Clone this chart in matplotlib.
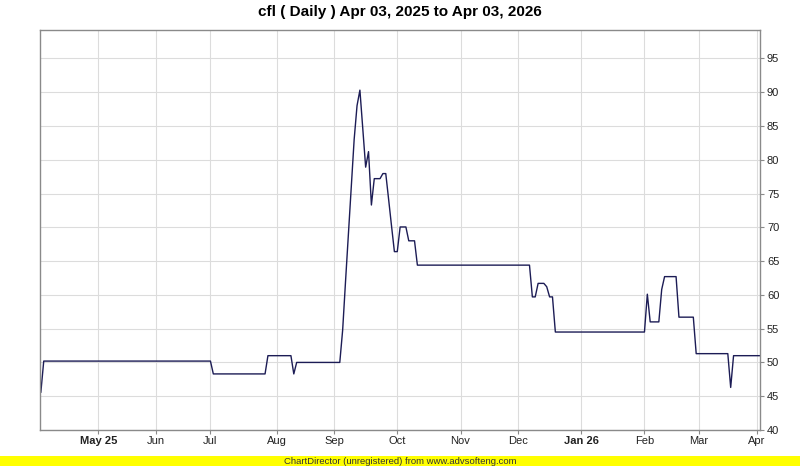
import matplotlib
matplotlib.use("Agg")
import matplotlib.pyplot as plt
import pandas as pd

# ---- data ----
title = "cfl ( Daily ) Apr 03, 2025 to Apr 03, 2026"
start_date = "2025-04-03"
end_date = "2026-04-02"
# weekdays without a trading record
no_trade_days = ["2025-05-15", "2025-06-11", "2025-06-19", "2025-05-26", "2025-08-20",
                 "2025-10-20", "2025-12-25", "2026-02-16", "2026-03-10", "2026-03-25"]

key_dates = ["2025-04-03", "2025-04-04", "2025-07-01", "2025-07-02", "2025-07-28", "2025-07-29",
             "2025-08-08", "2025-08-11", "2025-08-12", "2025-09-03", "2025-09-04", "2025-09-05",
             "2025-09-08", "2025-09-09", "2025-09-10", "2025-09-11", "2025-09-12", "2025-09-15",
             "2025-09-16", "2025-09-17", "2025-09-18", "2025-09-19", "2025-09-22", "2025-09-23",
             "2025-09-24", "2025-09-25", "2025-09-26", "2025-09-29", "2025-09-30", "2025-10-01",
             "2025-10-02", "2025-10-06", "2025-10-07", "2025-10-09", "2025-10-10", "2025-12-05",
             "2025-12-08", "2025-12-09", "2025-12-10", "2025-12-12", "2025-12-15", "2025-12-16",
             "2025-12-17", "2025-12-18", "2026-02-02", "2026-02-03", "2026-02-04", "2026-02-09",
             "2026-02-10", "2026-02-11", "2026-02-18", "2026-02-19", "2026-02-26", "2026-02-27",
             "2026-03-17", "2026-03-18", "2026-03-19", "2026-04-02"]
key_values = [45.6, 50.2, 50.2, 48.3, 48.3, 51.0,
              51.0, 48.3, 50.0, 50.0, 54.8, 62.0,
              69.0, 76.0, 83.0, 88.0, 90.3, 84.6,
              78.9, 81.2, 73.3, 77.2, 77.2, 77.2,
              77.95, 77.95, 74.1, 70.2, 66.4, 66.4,
              70.05, 70.05, 68.0, 68.0, 64.4, 64.4,
              59.7, 59.7, 61.7, 61.7, 61.2, 59.7,
              59.7, 54.5, 54.5, 60.1, 56.0, 56.0,
              60.8, 62.7, 62.7, 56.7, 56.7, 51.3,
              51.3, 46.3, 51.0, 51.0]

month_labels = ["May 25", "Jun", "Jul", "Aug", "Sep", "Oct", "Nov", "Dec",
                "Jan 26", "Feb", "Mar", "Apr"]
bold_labels = ["May 25", "Jan 26"]
y_ticks = [40, 45, 50, 55, 60, 65, 70, 75, 80, 85, 90, 95]

# ---- trading-day axis ----
bday = pd.offsets.CustomBusinessDay(holidays=no_trade_days)
days = pd.date_range(start_date, end_date, freq=bday)
x_idx = days.get_indexer(pd.to_datetime(key_dates))

month_key = days.to_period("M")
first_idx = [i for i in range(1, len(days)) if month_key[i] != month_key[i - 1]]

plt.rcParams['font.family'] = ['Liberation Sans', 'DejaVu Sans']
fig = plt.figure(figsize=(8.0, 4.66), dpi=100)
ax = fig.add_axes([40 / 800, 36 / 466, 720 / 800, 400 / 466])

ax.plot(x_idx, key_values, color="#1c1c55", lw=1.0)

ax.set_xlim(-0.3, len(days) - 1 + 0.2)
ax.set_ylim(40, 99.2)

ax.yaxis.tick_right()
ax.set_yticks(y_ticks)
ax.set_yticklabels([str(v) for v in y_ticks], fontsize=8)
ax.set_xticks(first_idx)
ax.set_xticklabels(month_labels[:len(first_idx)], fontsize=8)
for lbl in ax.get_xticklabels():
    if lbl.get_text() in bold_labels:
        lbl.set_fontweight("bold")

ax.grid(True, color="#dcdcdc", lw=0.8)
ax.set_axisbelow(True)
for s in ax.spines.values():
    s.set_color("#8a8a8a")
    s.set_linewidth(1.0)
ax.tick_params(axis="both", colors="#8a8a8a", labelcolor="#222222", length=3, width=0.8)
ax.tick_params(axis="x", pad=1.5)
ax.tick_params(axis="y", pad=2)

fig.text(0.5, 1 - 12 / 466, title, ha="center", va="center", fontsize=11, fontweight="bold")

# bottom banner
fig.patches.append(plt.Rectangle((0, 0), 1, 10 / 466, transform=fig.transFigure,
                                 facecolor="#ffff00", edgecolor="none", zorder=0))
fig.text(0.5, 5 / 466, "ChartDirector (unregistered) from www.advsofteng.com",
         ha="center", va="center", fontsize=6.8, color="#333333")

fig.savefig("out.png", dpi=100)
